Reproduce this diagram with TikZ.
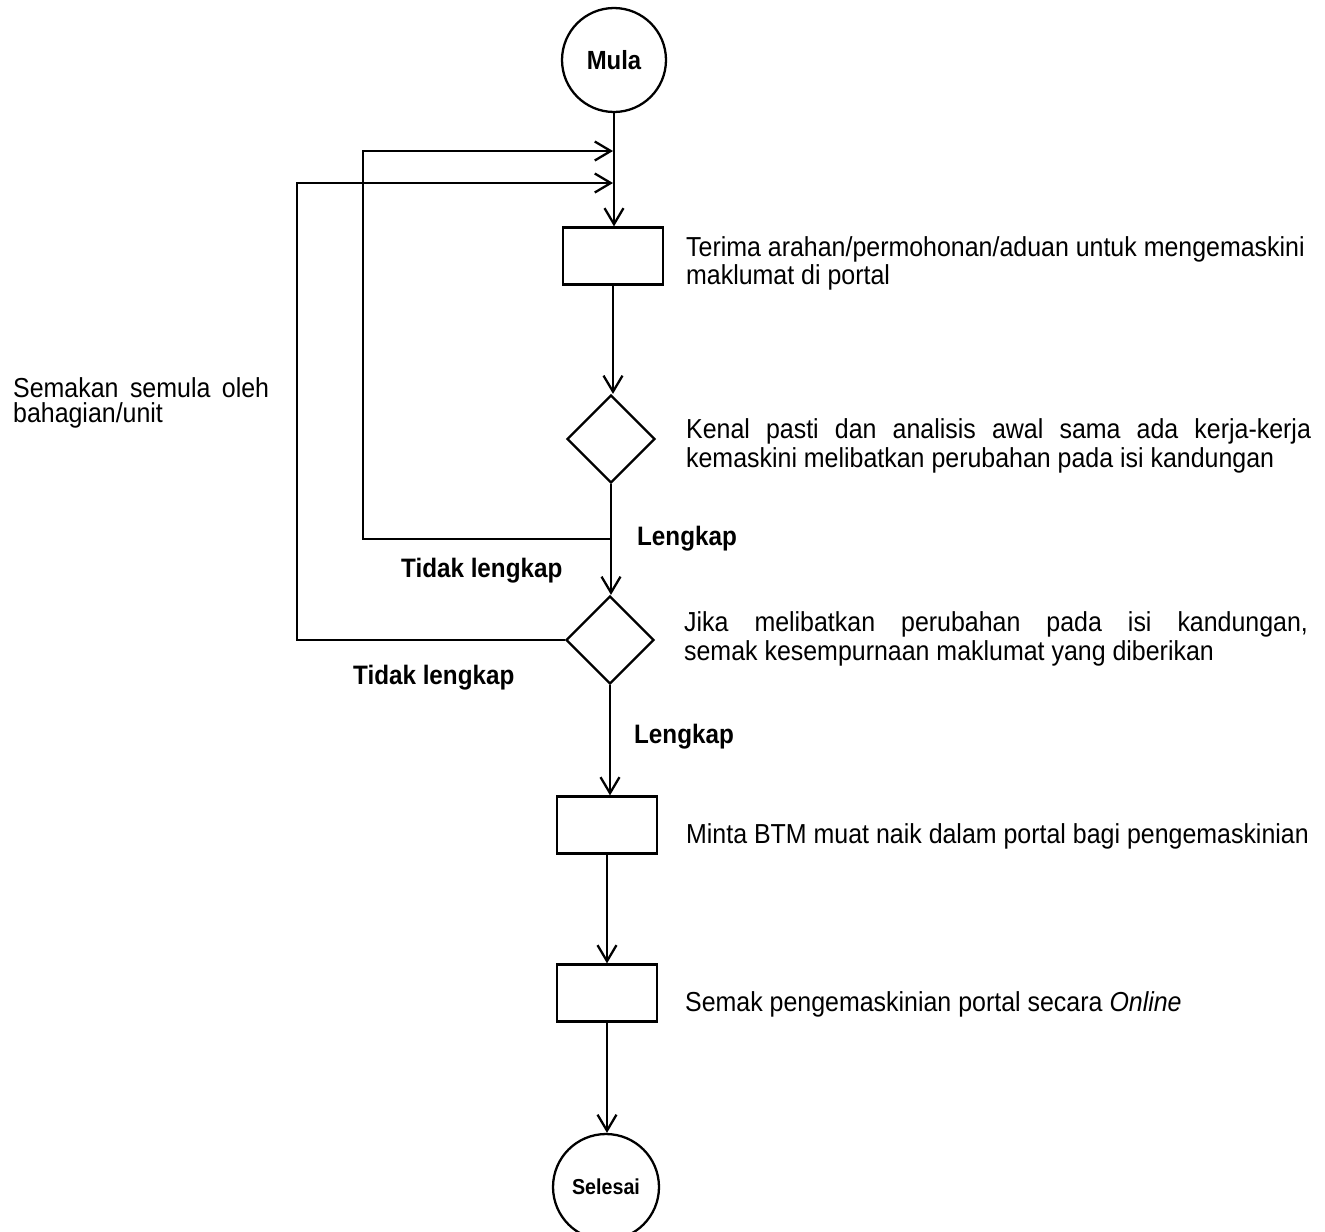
\documentclass[tikz,border=0pt]{standalone}
\usepackage{fontspec}
\setmainfont{Liberation Sans}
\usetikzlibrary{shapes.geometric,arrows.meta}
\newcommand{\vs}[1]{\scalebox{1}[1.1]{#1}}
\begin{document}
\begin{tikzpicture}[x=0.02cm,y=-0.02cm,
  line width=1.3pt,
  arr/.style={-{Straight Barb[length=0.32cm,width=0.38cm]}},
  box/.style={draw,rectangle,minimum width=1.99cm,minimum height=1.14cm,inner sep=0pt},
  dec/.style={draw,diamond,minimum width=1.76cm,minimum height=1.76cm,inner sep=0pt,aspect=1},
  term/.style={draw,circle,inner sep=0pt},
  txt/.style={anchor=base west,inner sep=0pt,font=\fontsize{14.2pt}{17pt}\selectfont},
  lab/.style={anchor=base west,inner sep=0pt,font=\fontsize{13.8pt}{17pt}\selectfont\bfseries}]
\useasboundingbox (0,0) rectangle (1325,1231);

% shapes
\node[term,minimum size=2.08cm,font=\fontsize{13.6pt}{16pt}\selectfont\bfseries] (mula) at (614,60) {\vs{Mula}};
\node[box] (r1) at (613,256) {};
\node[dec] (d1) at (611,439) {};
\node[dec] (d2) at (610,640) {};
\node[box] (r2) at (607,825) {};
\node[box] (r3) at (607,993) {};
\node[term,minimum size=2.12cm,font=\fontsize{11.2pt}{14pt}\selectfont\bfseries] (end) at (606,1187) {\vs{Selesai}};

\coordinate (m1) at (613,151);
\coordinate (m2) at (613,183);
\coordinate (j1) at (611,539);

% connectors
\draw[arr] (mula.south) -- (mula.south |- r1.north);
\draw[arr] (r1.south) -- (r1.south |- d1.north);
\draw[arr] (d1.south) -- (d1.south |- d2.north);
\draw[arr] (d2.south) -- (d2.south |- r2.north);
\draw[arr] (r2.south) -- (r2.south |- r3.north);
\draw[arr] (r3.south) -- (r3.south |- end.north);
\draw[arr] (j1) -- (363,539) |- (m1);
\draw[arr] (d2.west) -- (297,640) |- (m2);

% texts
\node[txt] (t1a) at (685,256) {\vs{Terima arahan/permohonan/aduan untuk mengemaskini}};
\node[txt] (t1b) at (685,284) {\vs{maklumat di portal}};
\node[txt] (t2a) at (685,438) {\vs{\makebox[12.5cm][s]{Kenal pasti dan analisis awal sama ada kerja-kerja}}};
\node[txt] (t2b) at (685,467) {\vs{kemaskini melibatkan perubahan pada isi kandungan}};
\node[txt] (t3a) at (683,631) {\vs{\makebox[12.48cm][s]{Jika melibatkan perubahan pada isi kandungan,}}};
\node[txt] (t3b) at (683,660) {\vs{semak kesempurnaan maklumat yang diberikan}};
\node[txt] (t4) at (685,843) {\vs{Minta BTM muat naik dalam portal bagi pengemaskinian}};
\node[txt] (t5) at (684,1011) {\vs{Semak pengemaskinian portal secara \textit{Online}}};
\node[txt] (t6a) at (12,397) {\vs{\makebox[5.12cm][s]{Semakan semula oleh}}};
\node[txt] (t6b) at (12,422) {\vs{bahagian/unit}};

\node[lab] (l1) at (636,545) {\vs{Lengkap}};
\node[lab] (n1) at (400,577) {\vs{Tidak lengkap}};
\node[lab] (n2) at (352,684) {\vs{Tidak lengkap}};
\node[lab] (l2) at (633,743) {\vs{Lengkap}};
\end{tikzpicture}
\end{document}
